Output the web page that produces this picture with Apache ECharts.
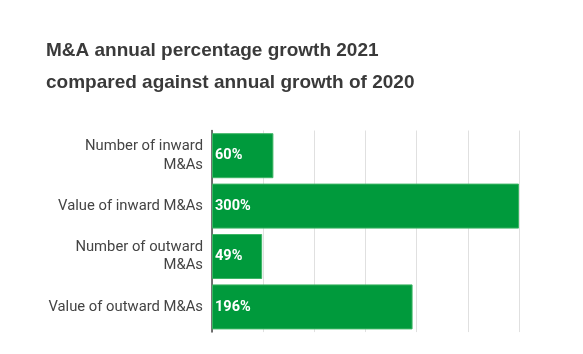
<!DOCTYPE html>
<html>
<head>
<meta charset="utf-8">
<script src="https://cdn.jsdelivr.net/npm/echarts@6/dist/echarts.min.js"></script>
<style>
  html, body { margin: 0; padding: 0; background: #fff; }
  #chart { width: 583px; height: 354px; }
</style>
</head>
<body>
<div id="chart"></div>
<script>
// categories top to bottom
const categories = [
  'Number of inward\nM&As',
  'Value of inward M&As',
  'Number of outward\nM&As',
  'Value of outward M&As'
];
const growth = [60, 300, 49, 196];
const axisTicks = [0, 50, 100, 150, 200, 250, 300];

const chart = echarts.init(document.getElementById('chart'));
chart.setOption({
  animation: false,
  title: {
    text: 'M&A annual percentage growth 2021\ncompared against annual growth of 2020',
    left: 41,
    top: 30,
    textStyle: {
      fontFamily: 'Liberation Sans, Arial, sans-serif',
      fontSize: 19,
      fontWeight: 'bold',
      color: '#3a3a3a',
      lineHeight: 32
    }
  },
  grid: { left: 212, right: 64, top: 130.5, height: 201.6 },
  xAxis: {
    type: 'value',
    min: axisTicks[0],
    max: axisTicks[axisTicks.length - 1],
    interval: 50,
    axisLabel: { show: false },
    axisLine: { show: false },
    axisTick: { show: false },
    splitLine: { lineStyle: { color: '#e0e0e0', width: 1 } }
  },
  yAxis: {
    type: 'category',
    data: categories,
    inverse: true,
    axisTick: { show: false },
    axisLine: { lineStyle: { color: '#444', width: 1.5 } },
    axisLabel: {
      margin: 9,
      fontFamily: 'Roboto, sans-serif',
      fontSize: 14.8,
      color: '#444',
      lineHeight: 18.5,
      align: 'right'
    }
  },
  series: [{
    type: 'bar',
    data: growth,
    barWidth: 45,
    itemStyle: { color: '#009a3c', borderColor: '#3db565', borderWidth: 1 },
    label: {
      show: true,
      position: 'insideLeft',
      distance: 3,
      formatter: '{c}%',
      color: '#fff',
      fontFamily: 'Roboto, sans-serif',
      fontWeight: 'bold',
      fontSize: 14.5
    }
  }]
});
</script>
</body>
</html>
